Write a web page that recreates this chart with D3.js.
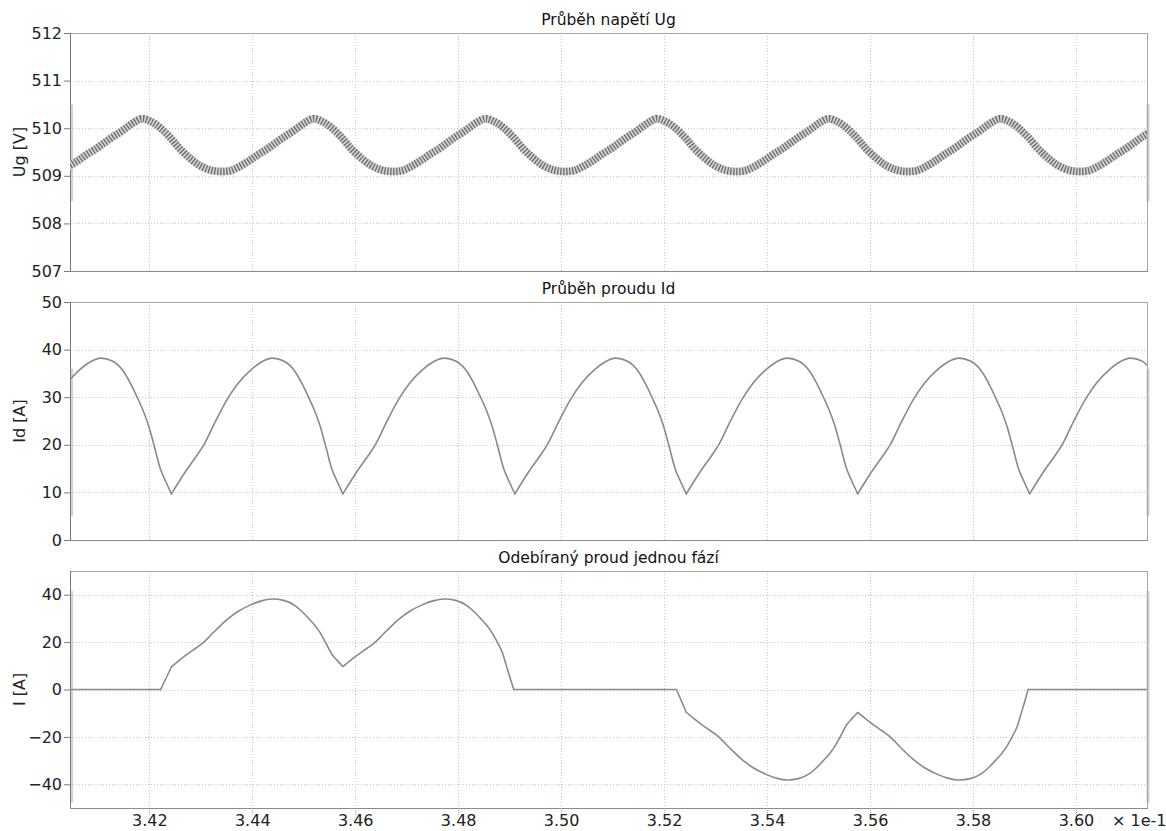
<!DOCTYPE html>
<html><head><meta charset="utf-8">
<script src="https://cdn.jsdelivr.net/npm/d3@7"></script>
<style>
body{margin:0;background:#fff}
svg{display:block}
text{font-family:"DejaVu Sans",Verdana,sans-serif}
</style>
</head><body>
<svg id="c" width="1166" height="831"></svg>
<script>
// ---- data (time axis in units of 1e-1 s) ----
const xDomain = [3.4046, 3.6138];
const xTicks = [3.42, 3.44, 3.46, 3.48, 3.50, 3.52, 3.54, 3.56, 3.58, 3.60];
const xExponent = "× 1e-1";

const titles = ["Průběh napětí Ug", "Průběh proudu Id", "Odebíraný proud jednou fází"];
const yLabels = ["Ug [V]", "Id [A]", "I [A]"];

const ugDomain = [507, 512];
const ugTicks = [507, 508, 509, 510, 511, 512];
const idDomain = [0, 50];
const idTicks = [0, 10, 20, 30, 40, 50];
const iDomain = [-50, 50];
const iTicks = [-40, -20, 0, 20, 40];

// grey range markers seen along the left/right frame edges
const ugRangeBar = [508.46, 510.5];
const idRangeBar = [5, 36];
const iRangeBar = [-47.7, 41.6];

// DC link voltage Ug (centre of the rippled band)
const ugData = [
[3.4025,509.11],[3.4045,509.21],[3.4063,509.33],[3.4079,509.45],[3.4097,509.57],[3.4111,509.68],[3.4128,509.81],[3.4144,509.92],[3.4158,510.03],[3.4170,510.12],
[3.4186,510.20],[3.4205,510.13],[3.4221,510.01],[3.4241,509.80],[3.4260,509.56],[3.4280,509.36],[3.4299,509.21],[3.4319,509.12],[3.4338,509.09],[3.4358,509.11],[3.4378,509.21],[3.4396,509.33],[3.4412,509.45],[3.4430,509.57],[3.4444,509.68],[3.4461,509.81],[3.4477,509.92],[3.4491,510.03],[3.4503,510.12],
[3.4519,510.20],[3.4538,510.13],[3.4554,510.01],[3.4574,509.80],[3.4593,509.56],[3.4613,509.36],[3.4632,509.21],[3.4652,509.12],[3.4671,509.09],[3.4691,509.11],[3.4711,509.21],[3.4729,509.33],[3.4745,509.45],[3.4763,509.57],[3.4777,509.68],[3.4794,509.81],[3.4810,509.92],[3.4824,510.03],[3.4836,510.12],
[3.4853,510.20],[3.4872,510.13],[3.4888,510.01],[3.4908,509.80],[3.4927,509.56],[3.4947,509.36],[3.4966,509.21],[3.4986,509.12],[3.5005,509.09],[3.5025,509.11],[3.5045,509.21],[3.5063,509.33],[3.5079,509.45],[3.5097,509.57],[3.5111,509.68],[3.5128,509.81],[3.5144,509.92],[3.5158,510.03],[3.5170,510.12],
[3.5186,510.20],[3.5205,510.13],[3.5221,510.01],[3.5241,509.80],[3.5260,509.56],[3.5280,509.36],[3.5299,509.21],[3.5319,509.12],[3.5338,509.09],[3.5358,509.11],[3.5378,509.21],[3.5396,509.33],[3.5412,509.45],[3.5430,509.57],[3.5444,509.68],[3.5461,509.81],[3.5477,509.92],[3.5491,510.03],[3.5503,510.12],
[3.5519,510.20],[3.5538,510.13],[3.5554,510.01],[3.5574,509.80],[3.5593,509.56],[3.5613,509.36],[3.5632,509.21],[3.5652,509.12],[3.5671,509.09],[3.5691,509.11],[3.5711,509.21],[3.5729,509.33],[3.5745,509.45],[3.5763,509.57],[3.5777,509.68],[3.5794,509.81],[3.5810,509.92],[3.5824,510.03],[3.5836,510.12],
[3.5853,510.20],[3.5872,510.13],[3.5888,510.01],[3.5908,509.80],[3.5927,509.56],[3.5947,509.36],[3.5966,509.21],[3.5986,509.12],[3.6005,509.09],[3.6025,509.11],[3.6045,509.21],[3.6063,509.33],[3.6079,509.45],[3.6097,509.57],[3.6111,509.68],[3.6128,509.81],[3.6144,509.92]
];

// DC current Id
const idData = [
[3.4040,33.0],[3.4064,35.7],[3.4085,37.4],
[3.4106,38.2],[3.4128,37.6],[3.4150,35.4],[3.4163,33.0],[3.4176,30.1],[3.4188,27.2],[3.4199,23.9],[3.4209,20.0],[3.4222,14.8],[3.4232,12.3],[3.4243,9.7],[3.4258,12.3],[3.4273,14.8],[3.4290,17.4],[3.4306,20.0],[3.4328,24.8],[3.4351,29.5],[3.4373,33.0],[3.4397,35.7],[3.4418,37.4],
[3.4439,38.2],[3.4461,37.6],[3.4483,35.4],[3.4496,33.0],[3.4509,30.1],[3.4521,27.2],[3.4532,23.9],[3.4542,20.0],[3.4555,14.8],[3.4565,12.3],[3.4576,9.7],[3.4591,12.3],[3.4606,14.8],[3.4623,17.4],[3.4639,20.0],[3.4661,24.8],[3.4684,29.5],[3.4706,33.0],[3.4730,35.7],[3.4751,37.4],
[3.4773,38.2],[3.4795,37.6],[3.4817,35.4],[3.4830,33.0],[3.4843,30.1],[3.4855,27.2],[3.4866,23.9],[3.4876,20.0],[3.4889,14.8],[3.4899,12.3],[3.4910,9.7],[3.4925,12.3],[3.4940,14.8],[3.4957,17.4],[3.4973,20.0],[3.4995,24.8],[3.5018,29.5],[3.5040,33.0],[3.5064,35.7],[3.5085,37.4],
[3.5106,38.2],[3.5128,37.6],[3.5150,35.4],[3.5163,33.0],[3.5176,30.1],[3.5188,27.2],[3.5199,23.9],[3.5209,20.0],[3.5222,14.8],[3.5232,12.3],[3.5243,9.7],[3.5258,12.3],[3.5273,14.8],[3.5290,17.4],[3.5306,20.0],[3.5328,24.8],[3.5351,29.5],[3.5373,33.0],[3.5397,35.7],[3.5418,37.4],
[3.5439,38.2],[3.5461,37.6],[3.5483,35.4],[3.5496,33.0],[3.5509,30.1],[3.5521,27.2],[3.5532,23.9],[3.5542,20.0],[3.5555,14.8],[3.5565,12.3],[3.5576,9.7],[3.5591,12.3],[3.5606,14.8],[3.5623,17.4],[3.5639,20.0],[3.5661,24.8],[3.5684,29.5],[3.5706,33.0],[3.5730,35.7],[3.5751,37.4],
[3.5773,38.2],[3.5795,37.6],[3.5817,35.4],[3.5830,33.0],[3.5843,30.1],[3.5855,27.2],[3.5866,23.9],[3.5876,20.0],[3.5889,14.8],[3.5899,12.3],[3.5910,9.7],[3.5925,12.3],[3.5940,14.8],[3.5957,17.4],[3.5973,20.0],[3.5995,24.8],[3.6018,29.5],[3.6040,33.0],[3.6064,35.7],[3.6085,37.4],
[3.6106,38.2],[3.6128,37.6],[3.6150,35.4]
];

// phase current I
const iData = [
[3.4040,0],[3.4222,0],[3.4243,9.5],[3.4258,12.3],[3.4273,14.8],[3.4290,17.4],[3.4306,20.0],[3.4328,24.8],[3.4351,29.5],[3.4373,33.0],[3.4397,35.7],[3.4418,37.4],
[3.4439,38.2],[3.4461,37.6],[3.4483,35.4],[3.4496,33.0],[3.4509,30.1],[3.4521,27.2],[3.4532,23.9],[3.4542,20.0],[3.4555,14.8],[3.4565,12.3],[3.4576,9.7],[3.4591,12.3],[3.4606,14.8],[3.4623,17.4],[3.4639,20.0],[3.4661,24.8],[3.4684,29.5],[3.4706,33.0],[3.4730,35.7],[3.4751,37.4],
[3.4773,38.2],[3.4795,37.6],[3.4817,35.4],[3.4830,33.0],[3.4843,30.1],[3.4855,27.2],[3.4866,23.9],[3.4876,20.0],[3.4886,15.5],[3.4893,10.5],[3.4900,5.5],[3.4908,0],
[3.5224,0],[3.5243,-9.6],[3.5258,-12.3],[3.5273,-14.8],[3.5290,-17.4],[3.5306,-20.0],[3.5328,-24.8],[3.5351,-29.5],[3.5373,-33.0],[3.5397,-35.7],[3.5418,-37.4],
[3.5439,-38.2],[3.5461,-37.6],[3.5483,-35.4],[3.5496,-33.0],[3.5509,-30.1],[3.5521,-27.2],[3.5532,-23.9],[3.5542,-20.0],[3.5555,-14.8],[3.5565,-12.3],[3.5576,-9.7],[3.5591,-12.3],[3.5606,-14.8],[3.5623,-17.4],[3.5639,-20.0],[3.5661,-24.8],[3.5684,-29.5],[3.5706,-33.0],[3.5730,-35.7],[3.5751,-37.4],
[3.5773,-38.2],[3.5795,-37.6],[3.5817,-35.4],[3.5830,-33.0],[3.5843,-30.1],[3.5855,-27.2],[3.5866,-23.9],[3.5876,-20.0],[3.5886,-15.5],[3.5893,-10.5],[3.5900,-5.5],[3.5907,0],
[3.6150,0]
];

// ---- drawing ----
const FONT = '"DejaVu Sans",Verdana,sans-serif';
const svg = d3.select("#c");
const L = 70, R = 1147;
const x = d3.scaleLinear().domain(xDomain).range([L, R]);

// split a series at its sharp corners (V-shaped minima of |v| and commutation points)
function splitAtCorners(data) {
  const pieces = [];
  let cur = [data[0]];
  for (let j = 1; j < data.length; j++) {
    cur.push(data[j]);
    if (j < data.length - 1) {
      const a = Math.abs(data[j - 1][1]), b = Math.abs(data[j][1]), c = Math.abs(data[j + 1][1]);
      const corner = (b <= a && b <= c) || a === 0 || c === 0;
      if (corner) { pieces.push(cur); cur = [data[j]]; }
    }
  }
  if (cur.length > 1) pieces.push(cur);
  return pieces;
}

const panels = [
  {top: 33,  h: 238, domain: ugDomain, ticks: ugTicks, data: ugData, ripple: true,  bar: ugRangeBar},
  {top: 302, h: 238, domain: idDomain, ticks: idTicks, data: idData, ripple: false, bar: idRangeBar},
  {top: 571, h: 237, domain: iDomain,  ticks: iTicks,  data: iData,  ripple: false, bar: iRangeBar}
];

panels.forEach((p, i) => {
  const y = d3.scaleLinear().domain(p.domain).range([p.top + p.h, p.top]);
  const g = svg.append("g");

  const clipId = "clip" + i;
  svg.append("clipPath").attr("id", clipId)
    .append("rect").attr("x", L).attr("y", p.top).attr("width", R - L).attr("height", p.h);

  // grid
  g.append("g").selectAll("line").data(xTicks).join("line")
    .attr("x1", d => Math.round(x(d)) + 0.5).attr("x2", d => Math.round(x(d)) + 0.5)
    .attr("y1", p.top).attr("y2", p.top + p.h)
    .attr("stroke", "#c8c8c8").attr("stroke-width", 1).attr("stroke-dasharray", "1,2");
  g.append("g").selectAll("line").data(p.ticks.filter(t => t > p.domain[0] && t < p.domain[1])).join("line")
    .attr("x1", L).attr("x2", R)
    .attr("y1", d => Math.round(y(d)) + 0.5).attr("y2", d => Math.round(y(d)) + 0.5)
    .attr("stroke", "#c8c8c8").attr("stroke-width", 1).attr("stroke-dasharray", "1,2");

  // range bars along the frame
  [L + 1.5, R + 1].forEach(bx => {
    g.append("line").attr("x1", bx).attr("x2", bx)
      .attr("y1", y(p.bar[1])).attr("y2", y(p.bar[0]))
      .attr("stroke", "#d2d2d2").attr("stroke-width", 3);
  });

  // frame
  g.append("rect").attr("x", L + 0.5).attr("y", p.top + 0.5).attr("width", R - L).attr("height", p.h)
    .attr("fill", "none").attr("stroke", "#a6a6a6").attr("stroke-width", 1);
  g.append("line").attr("x1", L + 0.5).attr("x2", L + 0.5).attr("y1", p.top).attr("y2", p.top + p.h + 1)
    .attr("stroke", "#7a7a7a");
  g.append("line").attr("x1", L).attr("x2", R + 1).attr("y1", p.top + p.h + 0.5).attr("y2", p.top + p.h + 0.5)
    .attr("stroke", "#8c8c8c");

  // series
  const sg = g.append("g").attr("clip-path", `url(#${clipId})`);
  if (p.ripple) {
    const line = d3.line().x(d => x(d[0])).y(d => y(d[1])).curve(d3.curveCatmullRom.alpha(0.5));
    sg.append("path").datum(p.data).attr("d", line)
      .attr("fill", "none").attr("stroke", "#d4d4d4").attr("stroke-width", 8);
    sg.append("path").datum(p.data).attr("d", line)
      .attr("fill", "none").attr("stroke", "#6a6a6a").attr("stroke-width", 7.5)
      .attr("stroke-dasharray", "1.3,1.7");
  } else {
    const line = d3.line().x(d => x(d[0])).y(d => y(d[1])).curve(d3.curveMonotoneX);
    sg.selectAll("path.s").data(splitAtCorners(p.data)).join("path").attr("class", "s")
      .attr("d", line)
      .attr("fill", "none").attr("stroke", "#8a8a8a").attr("stroke-width", 1.6)
      .attr("stroke-linejoin", "round").attr("stroke-linecap", "round");
  }

  // y axis
  const ya = g.append("g").attr("transform", `translate(${L},0)`)
    .call(d3.axisLeft(y).tickValues(p.ticks).tickSize(6).tickPadding(2).tickFormat(d3.format("d")));
  ya.select(".domain").remove();
  ya.selectAll(".tick line").attr("stroke", "#7a7a7a");
  ya.selectAll(".tick text").attr("font-size", 16).attr("fill", "#222").attr("font-family", FONT);

  // title & y label
  svg.append("text").attr("x", (L + R) / 2).attr("y", p.top - 8)
    .attr("text-anchor", "middle").attr("font-size", 15.5).attr("fill", "#111")
    .text(titles[i]);
  svg.append("text")
    .attr("transform", `translate(25,${p.top + p.h / 2}) rotate(-90)`)
    .attr("text-anchor", "middle").attr("font-size", 16).attr("fill", "#222")
    .text(yLabels[i]);

  // x axis (bottom panel only)
  if (i === panels.length - 1) {
    const xa = g.append("g").attr("transform", `translate(0,${p.top + p.h})`)
      .call(d3.axisBottom(x).tickValues(xTicks).tickSize(7).tickPadding(1).tickFormat(d3.format(".2f")));
    xa.select(".domain").remove();
    xa.selectAll(".tick line").attr("stroke", "#999").attr("stroke-dasharray", "1,1");
    xa.selectAll(".tick text").attr("font-size", 16).attr("fill", "#222").attr("font-family", FONT)
      .attr("dy", null).attr("y", 826 - (p.top + p.h));
    svg.append("text").attr("x", 1112).attr("y", 826)
      .attr("font-size", 16).attr("fill", "#222").text(xExponent);
  }
});
</script>
</body></html>
